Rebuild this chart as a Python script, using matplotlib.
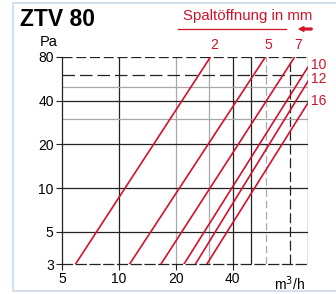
import matplotlib
matplotlib.use("Agg")
import matplotlib.pyplot as plt
from matplotlib.patches import Rectangle, FancyArrow
import numpy as np

plt.rcParams["font.family"] = ["Liberation Sans", "DejaVu Sans"]

# Data: gap width (mm) and flow (m3/h) at 3 Pa and at 80 Pa
gap_mm = ["2", "5", "7", "10", "12", "16"]
flow_at_3pa = [5.9, 11.4, 16.7, 22.1, 25.4, 29.2]
flow_at_80pa = [30.5, 59.5, 85.0, 108.0, 120.0, 142.0]
p_low, p_high = 3, 80

x_ticks = [5, 10, 20, 40]
y_ticks = [3, 5, 10, 20, 40, 80]

red = "#d4112b"
dark = "#222222"
light = "#a8a8a8"

fig = plt.figure(figsize=(3.36, 2.94), dpi=100)

# light blue frame around the whole diagram
fig.patches.append(Rectangle((13 / 336, 3 / 294), 330 / 336, 288 / 294,
                             transform=fig.transFigure, fill=False,
                             edgecolor="#c9dcea", linewidth=1.2))

ax = fig.add_axes([62 / 336, 1 - 264 / 294, 246 / 336, 207 / 294])
ax.set_xscale("log")
ax.set_yscale("log")
ax.set_xlim(5, 100)
ax.set_ylim(3, 80)

# -----------------------------
# grid
# -----------------------------
for x, c, ls in [(10, dark, "-"), (20, light, "-"), (30, light, "-"),
                 (40, dark, "-"), (50, dark, "-"), (60, light, (0, (6, 3))),
                 (80, dark, (0, (8, 3))), (100, dark, "-")]:
    ax.axvline(x, color=c, lw=0.9, ls=ls, zorder=1)
for y, c, ls in [(5, dark, "-"), (10, dark, "-"), (20, dark, "-"),
                 (30, light, "-"), (40, dark, "-"), (50, light, "-"),
                 (60, dark, (0, (10, 4))), (80, dark, (0, (8, 3)))]:
    ax.axhline(y, color=c, lw=0.9, ls=ls, zorder=1)

# -----------------------------
# characteristic lines
# -----------------------------
for lab, q0, q1 in zip(gap_mm, flow_at_3pa, flow_at_80pa):
    ax.plot([q0, q1], [p_low, p_high], color=red, lw=1.2, zorder=3)
    if q1 <= 100:
        ax.text(q1 * 1.04, 97, lab, color=red, fontsize=10,
                ha="center", va="center", clip_on=False)
    else:
        slope = np.log(p_high / p_low) / np.log(q1 / q0)
        p_edge = p_low * (100 / q0) ** slope
        ax.text(104, p_edge * 1.03, lab, color=red, fontsize=10,
                ha="left", va="center", clip_on=False)

# -----------------------------
# axes styling
# -----------------------------
for s in ["top", "right"]:
    ax.spines[s].set_visible(False)
ax.spines["left"].set_color(dark)
ax.spines["left"].set_linewidth(0.9)
ax.spines["bottom"].set_color(dark)
ax.spines["bottom"].set_linewidth(0.9)
ax.spines["bottom"].set_linestyle((0, (8, 3)))

ax.set_xticks(x_ticks)
ax.set_xticklabels([str(t) for t in x_ticks])
ax.set_yticks(y_ticks)
ax.set_yticklabels([str(t) for t in y_ticks])
ax.minorticks_off()
ax.tick_params(labelsize=10, length=4, width=0.8, color=dark, pad=2)

ax.text(80, 3 / 1.37, "m$^3$/h", fontsize=10, ha="center", va="center",
        clip_on=False)
ax.text(-0.053, 1.072, "Pa", transform=ax.transAxes, fontsize=10.5,
        ha="center", va="center")

# header texts
fig.text(20 / 336, 1 - 19 / 294, "ZTV 80", fontsize=16.5, fontweight="bold",
         ha="left", va="center")
fig.text(312 / 336, 1 - 16 / 294, "Spaltöffnung in mm", color=red,
         fontsize=10.8, ha="right", va="center")
fig.add_artist(plt.Line2D([178 / 336, 286 / 336], [1 - 29 / 294, 1 - 29 / 294],
                          color=red, lw=0.9, transform=fig.transFigure))
fig.add_artist(FancyArrow(312 / 336, 1 - 29 / 294, -13 / 336, 0,
                          width=0.006, head_width=0.016, head_length=5 / 336,
                          length_includes_head=True, color=red,
                          transform=fig.transFigure))

fig.savefig("out.png", dpi=100)
